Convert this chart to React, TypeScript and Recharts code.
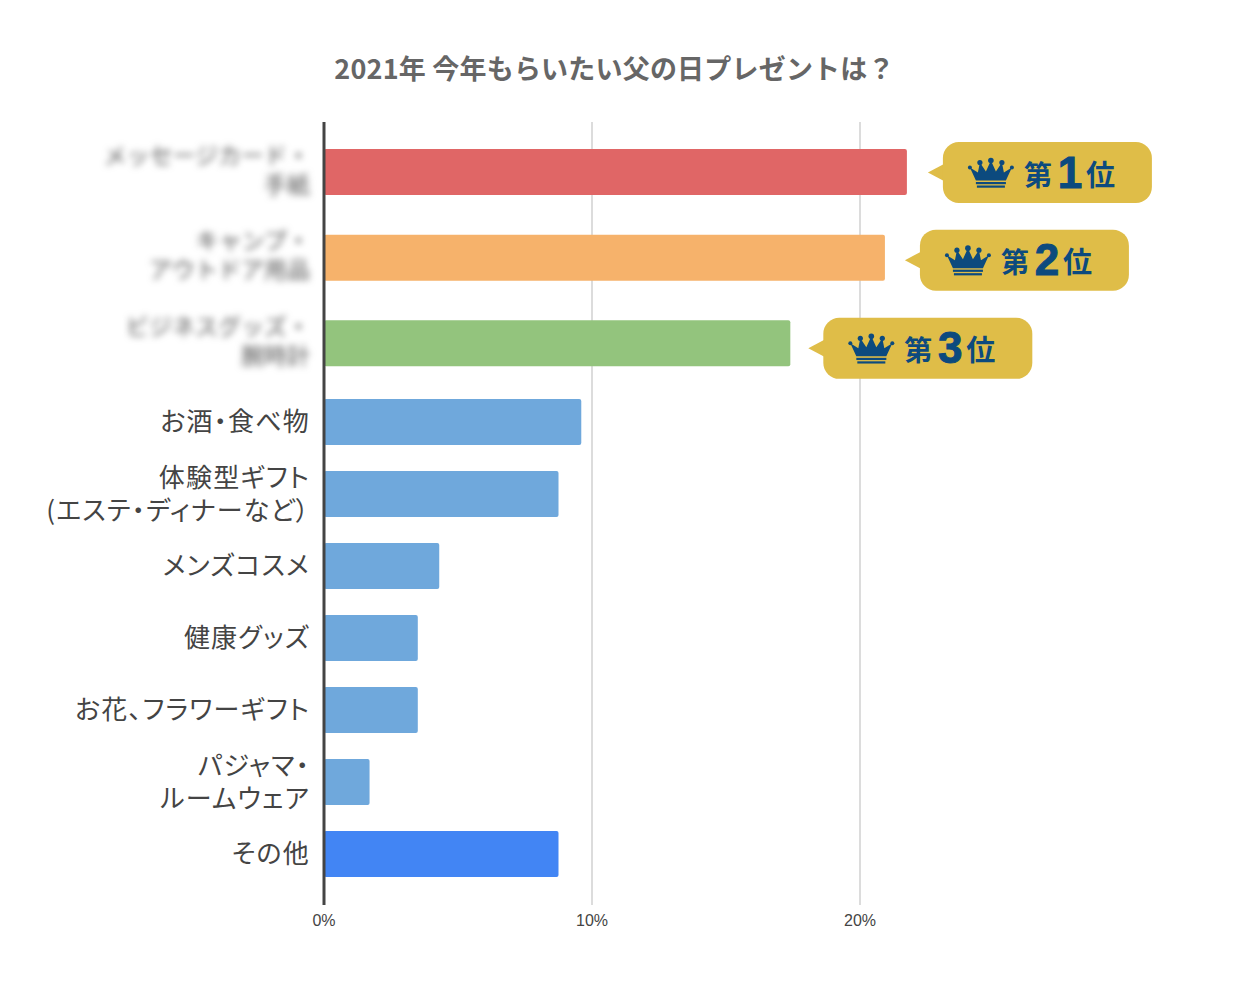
import React from "react";
import { BarChart, Bar, CartesianGrid, Cell, LabelList, XAxis, YAxis } from "recharts";

const topCategories = [
  "メッセージカード・\n手紙",
  "キャンプ・\nアウトドア用品",
  "ビジネスグッズ・\n腕時計",
];
const topValues = [21.75, 20.93, 17.4];
const topColors = ["#e06666", "#f6b26b", "#93c47d"];
const ranks = ["1", "2", "3"];

const restCategories = [
  "お酒・食べ物",
  "体験型ギフト\n(エステ・ディナーなど）",
  "メンズコスメ",
  "健康グッズ",
  "お花、フラワーギフト",
  "パジャマ・\nルームウェア",
  "その他",
];
const restValues = [9.6, 8.75, 4.3, 3.5, 3.5, 1.7, 8.75];
const restColors = ["#6fa8dc", "#6fa8dc", "#6fa8dc", "#6fa8dc", "#6fa8dc", "#6fa8dc", "#4285f4"];

const xTicks = [0, 10, 20];

const topData = topCategories.map((name, i) => ({ name, value: topValues[i], rank: ranks[i] }));
const restData = restCategories.map((name, i) => ({ name, value: restValues[i] }));

const JP = '"Noto Sans CJK JP", "Noto Sans", sans-serif';
const NAVY = "#0c4a7e";

const CategoryTick = ({ x, y, payload, blurred }: any) => {
  const lines = String(payload.value).split("\n");
  const size = blurred ? 23 : 26;
  const gap = blurred ? 29 : 33;
  const start = y - ((lines.length - 1) * gap) / 2 + size * 0.36 - (blurred ? 2 : 0);
  return (
    <text
      textAnchor="end"
      fontFamily={JP}
      fontSize={size}
      letterSpacing={blurred ? 0 : 1.2}
      fill={blurred ? "#555" : "#444"}
      style={blurred ? { filter: "blur(3.5px)" } : { fontFeatureSettings: '"palt"' }}
    >
      {lines.map((line, i) => (
        <tspan key={i} x={x - 6} y={start + i * gap}>
          {line}
        </tspan>
      ))}
    </text>
  );
};

const Crown = ({ x, y }: { x: number; y: number }) => (
  <g transform={`translate(${x},${y})`} fill={NAVY}>
    <path d="M2 10 L10 15 L12 5 L18 14 L23 3 L28 14 L34 5 L36 15 L44 10 L38 23 L8 23 Z" />
    <circle cx={2} cy={10} r={2} />
    <circle cx={12} cy={5} r={2.6} />
    <circle cx={23} cy={3} r={2.8} />
    <circle cx={34} cy={5} r={2.6} />
    <circle cx={44} cy={10} r={2} />
    <rect x={8} y={24.5} width={30} height={2.2} />
    <rect x={9} y={28} width={28} height={2.2} />
  </g>
);

// rank badge hanging off the end of each of the top three bars
const RankBadge = ({ x, y, width, height, value }: any) => {
  const idx = Number(value) - 1;
  const cy = y + height / 2 + [0.5, 2.5, 5][idx];
  const tip = x + width + [21, 20, 18][idx];
  const left = tip + 15;
  return (
    <g>
      <path d={`M${tip} ${cy} L${left + 2} ${cy - 9} L${left + 2} ${cy + 9} Z`} fill="#dfbd48" />
      <rect x={left} y={cy - 30.5} width={209} height={61} rx={16} fill="#dfbd48" />
      <Crown x={left + 25} y={cy - 15} />
      <text x={left + 81} y={cy + 13} fontFamily={JP} fontWeight={700} fontSize={28} fill={NAVY}>
        第
      </text>
      <text
        x={left + 127}
        y={cy + 15}
        textAnchor="middle"
        fontFamily='"Liberation Sans", sans-serif'
        fontWeight={700}
        fontSize={44}
        fill={NAVY}
        stroke={NAVY}
        strokeWidth={1}
      >
        {value}
      </text>
      <text x={left + 143} y={cy + 13} fontFamily={JP} fontWeight={700} fontSize={29} fill={NAVY}>
        位
      </text>
    </g>
  );
};

const axisLine = { stroke: "#444", strokeWidth: 3 };
const margin = { top: 0, right: 249, bottom: 0, left: 0 };

const App: React.FC = () => {
  return (
    <div style={{ position: "absolute", left: 0, top: 0, width: 1243, height: 983, background: "#fff" }}>
      <div
        style={{
          position: "absolute",
          left: 0,
          top: 48,
          width: 1229,
          textAlign: "center",
          fontFamily: JP,
          fontWeight: 700,
          fontSize: 27,
          letterSpacing: 0.2,
          lineHeight: "40px",
          color: "#666",
        }}
      >
        2021年 今年もらいたい父の日プレゼントは？
      </div>

      <div style={{ position: "absolute", left: 0, top: 122 }}>
        <BarChart width={1243} height={264} layout="vertical" data={topData} margin={margin}>
          <CartesianGrid horizontal={false} verticalValues={xTicks} stroke="#d0d0d0" strokeWidth={1.5} />
          <XAxis type="number" domain={[0, 25]} ticks={xTicks} hide />
          <YAxis
            type="category"
            dataKey="name"
            width={324}
            interval={0}
            padding={{ top: 7, bottom: 0 }}
            axisLine={axisLine}
            tickLine={false}
            tick={<CategoryTick blurred />}
          />
          <Bar dataKey="value" barSize={46} radius={2} isAnimationActive={false}>
            {topData.map((d, i) => (
              <Cell key={d.name} fill={topColors[i]} />
            ))}
            <LabelList dataKey="rank" content={<RankBadge />} />
          </Bar>
        </BarChart>
      </div>

      <div style={{ position: "absolute", left: 0, top: 386 }}>
        <BarChart width={1243} height={554} layout="vertical" data={restData} margin={margin}>
          <CartesianGrid horizontal={false} verticalValues={xTicks} stroke="#d0d0d0" strokeWidth={1.5} />
          <XAxis
            type="number"
            domain={[0, 25]}
            ticks={xTicks}
            height={35}
            axisLine={false}
            tickLine={false}
            tickMargin={4}
            tickFormatter={(v: number) => `${v}%`}
            tick={{ fontFamily: '"Liberation Sans", sans-serif', fontSize: 16, fill: "#444" }}
          />
          <YAxis
            type="category"
            dataKey="name"
            width={324}
            interval={0}
            padding={{ top: 0, bottom: 15 }}
            axisLine={axisLine}
            tickLine={false}
            tick={<CategoryTick />}
          />
          <Bar dataKey="value" barSize={46} radius={2} isAnimationActive={false}>
            {restData.map((d, i) => (
              <Cell key={d.name} fill={restColors[i]} />
            ))}
          </Bar>
        </BarChart>
      </div>
    </div>
  );
};

export default App;
